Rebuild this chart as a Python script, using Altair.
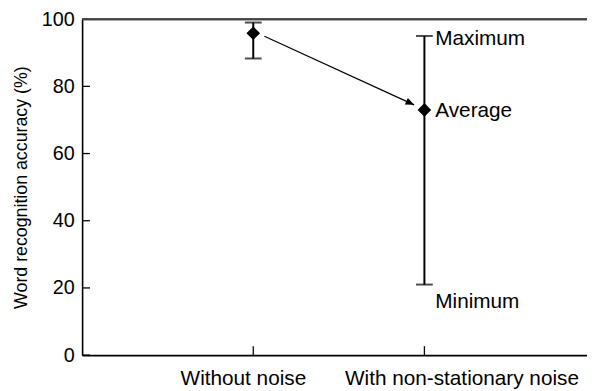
import altair as alt
import pandas as pd

# ---- data ----
conditions = ["Without noise", "With non-stationary noise"]
cond_pos = [1, 2]
avg_values = [95.8, 73.0]
max_values = [99.0, 95.0]
min_values = [88.3, 21.0]

ann_labels = ["Maximum", "Average", "Minimum"]
ann_values = [95.0, 73.0, 21.0]

arrow_x = [1.065, 1.94]
arrow_y = [94.9, 74.5]

y_ticks = [0, 20, 40, 60, 80, 100]

# ---- styling ----
ann_dy = [3, 1, 18]
cond_dx = [-10, 38]
W, H = 511, 340
X_DOMAIN = [0, 2.95]
FONT = "Liberation Sans"

df = pd.DataFrame({"pos": cond_pos, "cond": conditions, "avg": avg_values,
                   "vmax": max_values, "vmin": min_values})
arrow = pd.DataFrame({"x": arrow_x, "y": arrow_y, "o": [0, 1]})
yt = pd.DataFrame({"v": y_ticks})

xscale = alt.Scale(domain=X_DOMAIN, nice=False, zero=False)
yscale = alt.Scale(domain=[0, 100], nice=False)

x_enc = alt.X("pos:Q", scale=xscale,
              axis=alt.Axis(values=cond_pos, labels=False, ticks=False, grid=False,
                            title=None, domainColor="black", domainWidth=1.6))
y_axis = alt.Axis(values=y_ticks, ticks=False, grid=False, title="Word recognition accuracy (%)",
                  domainColor="black", domainWidth=1.6, labelFont=FONT, labelFontSize=20,
                  labelColor="black", labelPadding=8, titleFont=FONT, titleFontSize=18,
                  titleFontWeight="normal", titleColor="black", titlePadding=11)

base = alt.Chart(df)

bars = base.mark_rule(color="black", strokeWidth=2).encode(
    x=x_enc, y=alt.Y("vmin:Q", scale=yscale, axis=y_axis), y2="vmax:Q")
cap_top = base.mark_tick(orient="horizontal", size=17, thickness=2, color="black").encode(
    x="pos:Q", y="vmax:Q")
cap_bot = base.mark_tick(orient="horizontal", size=17, thickness=2, color="black").encode(
    x="pos:Q", y="vmin:Q")
pts = base.mark_point(shape="diamond", filled=True, size=190, color="black", opacity=1).encode(
    x="pos:Q", y="avg:Q")

arrow_line = alt.Chart(arrow).mark_line(color="black", strokeWidth=1.2).encode(
    x="x:Q", y="y:Q", order="o:Q")
arrow_head = alt.Chart(arrow[arrow.o == 1]).mark_point(
    shape="M0,0L-1,-0.42L-1,0.42Z", filled=True, size=300, color="black", opacity=1, angle=24.7
).encode(x="x:Q", y="y:Q")

layers = [bars, cap_top, cap_bot, arrow_line, arrow_head, pts]

for lab, v, dy in zip(ann_labels, ann_values, ann_dy):
    d = pd.DataFrame({"pos": [cond_pos[1]], "v": [v], "label": [lab]})
    layers.append(alt.Chart(d).mark_text(align="left", baseline="middle", dx=11, dy=dy,
                                         font=FONT, fontSize=21, color="black").encode(
        x="pos:Q", y="v:Q", text="label:N"))

for p, c, dx in zip(cond_pos, conditions, cond_dx):
    d = pd.DataFrame({"pos": [p], "cond": [c]})
    layers.append(alt.Chart(d).mark_text(align="center", baseline="middle", dx=dx,
                                         font=FONT, fontSize=21, color="black").encode(
        x="pos:Q", y=alt.value(H + 24), text="cond:N"))

# inward ticks
layers.append(alt.Chart(yt).mark_rule(color="black", strokeWidth=1.3).encode(
    y="v:Q", x=alt.value(0), x2=alt.value(8)))
layers.append(base.mark_rule(color="black", strokeWidth=1.3).encode(
    x="pos:Q", y=alt.value(H), y2=alt.value(H - 9)))
layers.append(base.mark_rule(color="#444444", strokeWidth=2).encode(
    x=alt.value(0), x2=alt.value(W), y=alt.value(0)))

chart = alt.layer(*layers).properties(
    width=W, height=H,
    autosize=alt.AutoSizeParams(type="none"),
    padding={"left": 75, "top": 9, "right": 0, "bottom": 34},
).configure_view(stroke=None).configure(background="white")

chart.save("out.html", embed_options={"renderer": "svg", "actions": False})
